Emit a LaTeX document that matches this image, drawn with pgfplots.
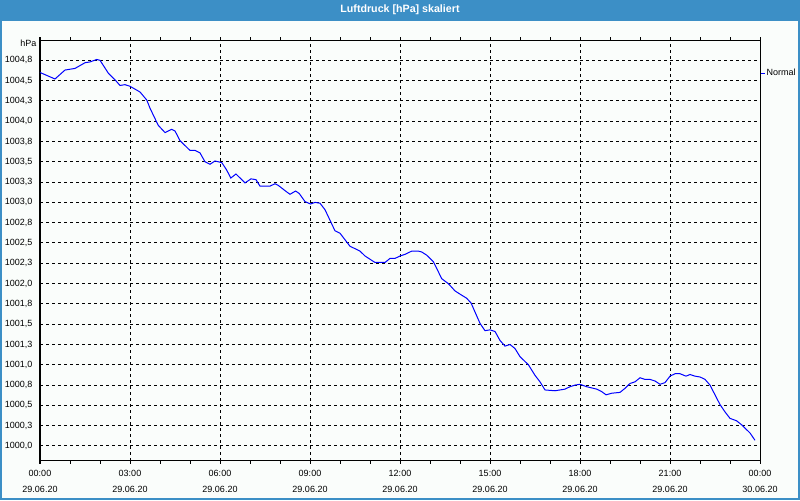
\documentclass[border=0pt]{standalone}
\usepackage{fontspec}
\setmainfont{Liberation Sans}
\usepackage{pgfplots}
\pgfplotsset{compat=1.18}
\definecolor{frameblue}{HTML}{3C8FC6}
\definecolor{bgc}{HTML}{FAFDFB}
\begin{document}
\begin{tikzpicture}
\useasboundingbox (0,0) rectangle (600pt,375pt);
\fill[bgc] (0,0) rectangle (600pt,375pt);
\fill[frameblue] (0,359.25pt) rectangle (600pt,375pt);
\draw[frameblue, line width=1.5pt] (0.75pt,0.75pt) rectangle (599.25pt,374.25pt);
\node[white, font=\bfseries\fontsize{8}{10}\selectfont] at (300pt,367.5pt) {Luftdruck [hPa] skaliert};
\begin{axis}[
  at={(30pt,29.25pt)}, anchor=south west,
  scale only axis, width=540pt, height=315.75pt,
  xmin=0, xmax=24, ymin=999.815, ymax=1005.0,
  axis line style={black, line width=0.75pt},
  xtick={0,3,...,24},
  xticklabels={{00:00\\29.06.20},{03:00\\29.06.20},{06:00\\29.06.20},{09:00\\29.06.20},{12:00\\29.06.20},{15:00\\29.06.20},{18:00\\29.06.20},{21:00\\29.06.20},{00:00\\30.06.20}},
  minor x tick num=2,
  ytick={1000,1000.25,...,1004.8},
  yticklabels={1000{,}0,1000{,}3,1000{,}5,1000{,}8,1001{,}0,1001{,}3,1001{,}5,1001{,}8,1002{,}0,1002{,}3,1002{,}5,1002{,}8,1003{,}0,1003{,}3,1003{,}5,1003{,}8,1004{,}0,1004{,}3,1004{,}5,1004{,}8},
  tick align=outside,
  major tick length=2.25pt, minor tick length=2.25pt,
  ytick style={draw=none},
  xtick style={black, line width=0.75pt},
  x tick label style={align=center, font=\fontsize{6.75}{12}\selectfont, yshift=-1.5pt},
  y tick label style={font=\fontsize{6.75}{10}\selectfont, xshift=0pt},
  grid=major,
  major grid style={black, line width=0.75pt, dash pattern=on 2.25pt off 2.25pt},
  legend style={at={(rel axis cs:1,0.9216)}, anchor=west, draw=none, fill=none, inner sep=0pt, font=\fontsize{6.75}{10}\selectfont, nodes={inner xsep=1pt}},
  legend cell align=left,
  legend image code/.code={\draw[#1] (0pt,0pt) -- (3pt,0pt);},
  clip=false,
]
\addplot[blue, line width=0.75pt] coordinates {
(0,1004.60) (0.5,1004.52) (0.833,1004.63) (1.167,1004.65) (1.5,1004.72) (1.667,1004.73)
(1.89,1004.76) (2.0,1004.75) (2.28,1004.59) (2.5,1004.51) (2.667,1004.44) (2.833,1004.45)
(3.0,1004.43) (3.333,1004.36) (3.56,1004.26) (3.667,1004.16) (3.94,1003.95) (4.167,1003.86)
(4.39,1003.90) (4.5,1003.88) (4.667,1003.76) (5.0,1003.64) (5.167,1003.64) (5.333,1003.61)
(5.5,1003.50) (5.667,1003.47) (5.833,1003.51) (6.06,1003.49) (6.22,1003.40) (6.36,1003.30)
(6.533,1003.35) (6.833,1003.24) (7.033,1003.29) (7.2,1003.28) (7.333,1003.20) (7.667,1003.20)
(7.833,1003.23) (7.94,1003.21) (8.22,1003.13) (8.333,1003.10) (8.52,1003.14) (8.64,1003.11)
(8.833,1003.01) (9.02,1002.98) (9.167,1003.00) (9.333,1002.99) (9.5,1002.91) (9.667,1002.78)
(9.833,1002.65) (10.0,1002.62) (10.167,1002.54) (10.333,1002.46) (10.5,1002.43) (10.667,1002.40)
(10.833,1002.34) (11.0,1002.30) (11.167,1002.26) (11.5,1002.26) (11.667,1002.31) (11.833,1002.31)
(12.0,1002.34) (12.167,1002.36) (12.39,1002.40) (12.61,1002.40) (12.72,1002.39) (12.89,1002.35)
(13.11,1002.27) (13.22,1002.19) (13.39,1002.06) (13.61,1002.00) (13.833,1001.91) (14.0,1001.87)
(14.22,1001.82) (14.37,1001.76) (14.5,1001.65) (14.667,1001.51) (14.833,1001.42) (15.0,1001.43)
(15.167,1001.41) (15.333,1001.30) (15.5,1001.23) (15.667,1001.25) (15.833,1001.20) (16.0,1001.10)
(16.28,1001.00) (16.5,1000.87) (16.667,1000.79) (16.833,1000.69) (17.167,1000.68) (17.5,1000.70)
(17.667,1000.73) (17.833,1000.75) (18.0,1000.76) (18.22,1000.73) (18.56,1000.70) (18.72,1000.67)
(18.87,1000.63) (19.06,1000.65) (19.333,1000.66) (19.5,1000.71) (19.667,1000.77) (19.833,1000.79)
(20.0,1000.84) (20.167,1000.82) (20.333,1000.82) (20.5,1000.80) (20.667,1000.76) (20.833,1000.78)
(21.0,1000.86) (21.167,1000.89) (21.333,1000.89) (21.533,1000.86) (21.667,1000.88) (21.833,1000.86)
(22.0,1000.85) (22.167,1000.82) (22.333,1000.75) (22.5,1000.63) (22.667,1000.51) (22.833,1000.42)
(23.0,1000.34) (23.22,1000.31) (23.39,1000.26) (23.5,1000.22) (23.667,1000.16) (23.833,1000.07)
};
\addlegendentry{Normal}
\node[anchor=north east, font=\fontsize{6.75}{10}\selectfont, inner sep=0pt] at ([xshift=-2.5pt,yshift=0pt]rel axis cs:0,1) {hPa};
\end{axis}
\end{tikzpicture}
\end{document}
